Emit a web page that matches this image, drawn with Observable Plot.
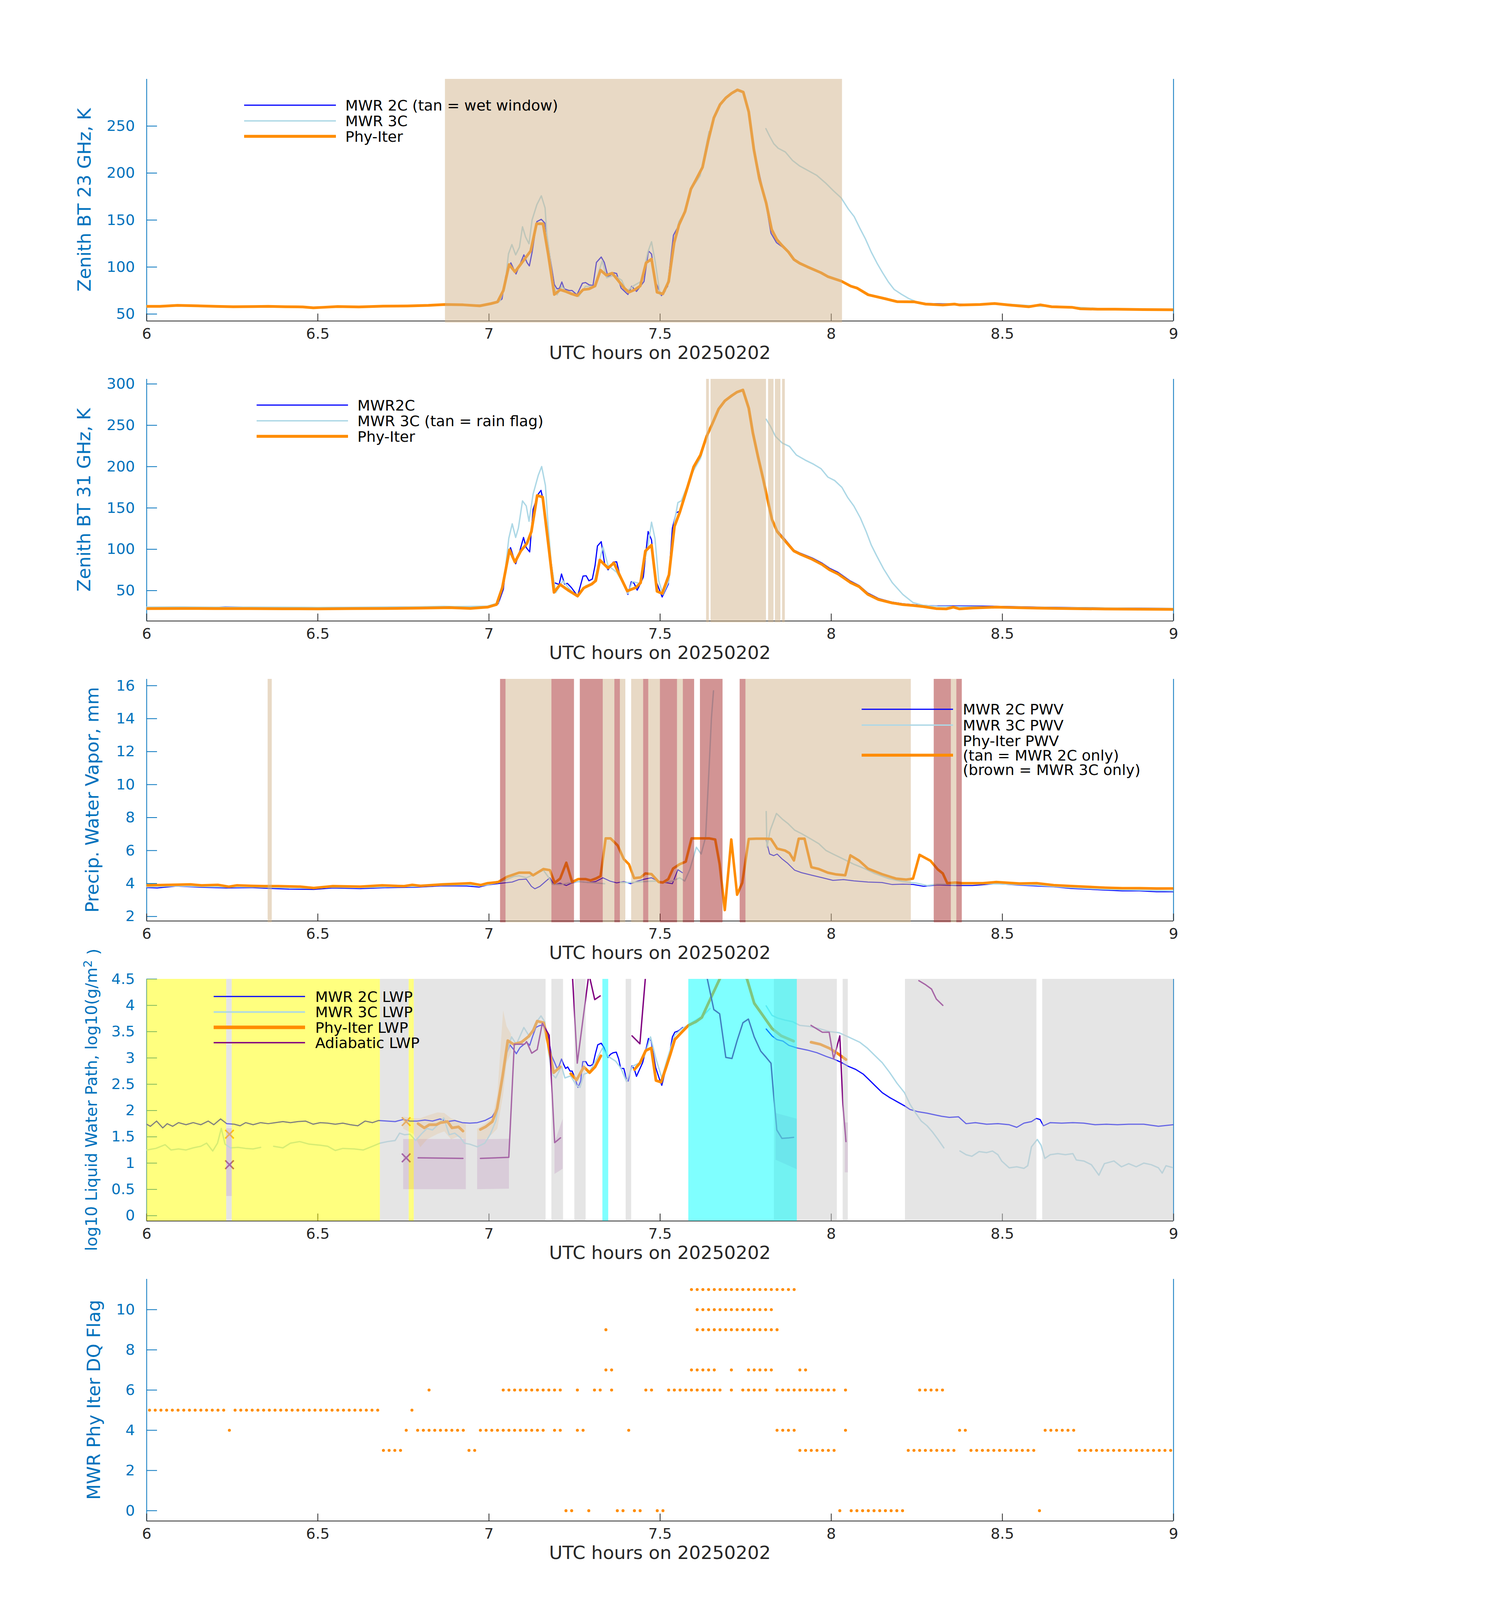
<!DOCTYPE html>
<html><head><meta charset="utf-8">
<script src="https://cdn.jsdelivr.net/npm/d3@7"></script>
<script src="https://cdn.jsdelivr.net/npm/@observablehq/plot@0.6"></script>
<style>
html,body{margin:0;background:#fff;overflow:hidden;}
#wrap{position:relative;width:3825px;background:#fff;font-family:"DejaVu Sans",sans-serif;}
#wrap svg{position:absolute;left:0;overflow:visible;}
</style></head><body><div id="wrap"></div>
<script>
// ---------------- DATA ----------------
const xTicks = [6, 6.5, 7, 7.5, 8, 8.5, 9];

// Panel 1: Zenith BT 23 GHz
const bt23_2C = [[6.0,58.6],[6.05,58.8],[6.1,59.4],[6.15,59.0],[6.2,58.5],[6.25,58.0],[6.3,58.3],[6.35,58.5],[6.4,58.1],[6.45,57.9],[6.49,56.9],[6.52,57.4],[6.56,58.2],[6.62,57.8],[6.69,58.6],[6.76,58.8],[6.82,59.4],[6.87,60.4],[6.93,60.0],[6.976,59.4],[7.006,61.0],[7.025,62.5],[7.038,66],[7.049,90.4],[7.064,104.5],[7.079,92.6],[7.102,113.0],[7.111,104.9],[7.118,101.2],[7.126,115.7],[7.140,148.3],[7.153,150.8],[7.164,146.5],[7.177,113.9],[7.191,81.4],[7.199,76.8],[7.206,77.4],[7.213,84.1],[7.220,76.8],[7.235,75.0],[7.243,75.0],[7.257,70.5],[7.264,75.9],[7.273,82.8],[7.282,83.5],[7.293,81.0],[7.304,80.4],[7.314,104.9],[7.328,110.7],[7.337,104.9],[7.348,89.5],[7.364,94.0],[7.373,93.1],[7.386,77.7],[7.406,70.8],[7.417,79.5],[7.431,74.1],[7.453,84.6],[7.466,117.2],[7.475,113.9],[7.486,84.9],[7.504,69.6],[7.522,79.5],[7.539,133.8],[7.555,144.7],[7.573,159.2],[7.590,183.0],[7.607,194.4],[7.624,206.2],[7.641,235.1],[7.657,258.7],[7.675,272.8],[7.692,280.0],[7.709,284.9],[7.726,288.5],[7.743,286.2],[7.759,265.0],[7.775,224.3],[7.792,195.3],[7.808,170.0],[7.824,136],[7.840,126],[7.857,121.5],[7.875,115.5],[7.891,107.8],[7.908,104.0],[7.933,100.0],[7.970,94.0],[7.991,89.7],[8.029,85.1],[8.057,79.7],[8.075,77.7],[8.108,70.5],[8.159,66.2],[8.192,63.2],[8.242,63.0],[8.276,61.2],[8.326,60.8],[8.376,60.6],[8.435,60.4],[8.477,61.4],[8.519,59.8],[8.577,58.0],[8.611,60.0],[8.644,58.4],[8.703,57.6],[8.728,55.8],[8.778,55.4],[8.828,55.3],[8.912,55.1],[9.0,54.8]];
const bt23_3C = [[6.0,58.5],[6.1,59.3],[6.2,58.4],[6.3,58.2],[6.4,58.0],[6.49,56.8],[6.6,57.8],[6.7,58.5],[6.8,59.0],[6.9,60.0],[6.976,59.4],[7.006,60.8],[7.031,63.3],[7.046,77.7],[7.057,113.9],[7.067,123.9],[7.078,113.0],[7.089,121.1],[7.098,142.9],[7.107,132.0],[7.117,124.8],[7.126,150.1],[7.140,166.4],[7.153,175.8],[7.164,162.8],[7.169,135.6],[7.177,113.9],[7.188,81.4],[7.199,70.5],[7.213,79.5],[7.226,73.2],[7.242,72.3],[7.262,68.7],[7.282,79.5],[7.308,79.5],[7.331,106.7],[7.344,88.6],[7.366,91.3],[7.388,85.9],[7.402,74.1],[7.424,80.4],[7.446,85.0],[7.464,115.7],[7.475,126.9],[7.486,104.9],[7.500,70.5],[7.515,74.1],[7.530,95.8],[7.544,132.0],[7.555,148.3],[7.570,157.4],[7.591,182.7],[7.617,197.1],[7.643,244.2],[7.65,NaN],[7.809,247.3],[7.820,239.3],[7.832,231.3],[7.845,226.4],[7.866,222.4],[7.887,213.4],[7.908,207.5],[7.933,202.5],[7.958,197.5],[7.983,189.6],[8.008,180.6],[8.029,173.6],[8.050,161.7],[8.067,153.7],[8.083,141.8],[8.100,129.9],[8.117,115.9],[8.134,104.0],[8.150,94.0],[8.167,84.1],[8.184,76.1],[8.205,71.1],[8.226,66.6],[8.251,62.6],[8.276,61.0],[8.3,60.5],[8.4,60.2],[8.5,60.8],[8.6,58.5],[8.7,57.5],[8.8,55.5],[8.9,55.0],[9.0,54.8]];
const bt23_phy = [[6.000,58.2],[6.039,58.2],[6.090,59.2],[6.141,58.8],[6.202,58.2],[6.253,57.8],[6.314,58.0],[6.355,58.2],[6.405,57.8],[6.456,57.6],[6.487,56.6],[6.518,57.2],[6.558,58.0],[6.620,57.6],[6.691,58.4],[6.762,58.6],[6.823,59.2],[6.872,60.2],[6.925,59.8],[6.973,58.7],[7.006,61.1],[7.025,62.9],[7.042,75.0],[7.059,102.7],[7.076,94.9],[7.093,103.1],[7.122,117.2],[7.139,146.1],[7.158,146.1],[7.173,113.9],[7.191,70.8],[7.208,75.9],[7.226,73.8],[7.242,71.4],[7.258,69.6],[7.275,75.9],[7.293,76.8],[7.310,79.9],[7.326,96.7],[7.343,91.3],[7.360,93.5],[7.377,85.9],[7.395,77.7],[7.409,73.2],[7.426,75.9],[7.442,79.9],[7.459,104.5],[7.475,108.5],[7.491,73.2],[7.508,71.4],[7.525,84.6],[7.541,125.7],[7.555,144.7],[7.573,159.2],[7.590,183.0],[7.607,194.4],[7.624,206.2],[7.641,235.1],[7.657,258.7],[7.675,272.8],[7.692,280.0],[7.709,284.9],[7.726,288.5],[7.743,286.2],[7.759,265.1],[7.774,225],[7.790,194],[7.810,168],[7.826,139.9],[7.841,129.3],[7.857,122.7],[7.875,116.0],[7.891,108.0],[7.908,104.0],[7.930,100.3],[7.970,94.0],[7.991,89.7],[8.029,85.1],[8.057,79.7],[8.075,77.7],[8.108,70.5],[8.159,66.2],[8.192,63.2],[8.242,63.0],[8.276,60.6],[8.326,59.6],[8.360,60.6],[8.376,59.6],[8.435,60.2],[8.477,61.2],[8.519,59.6],[8.577,57.8],[8.611,59.8],[8.644,57.8],[8.703,57.2],[8.728,55.6],[8.778,55.2],[8.828,55.2],[8.912,54.8],[9.000,54.6]];
const wetWindow = [[6.872, 8.032]];

// Panel 2: Zenith BT 31 GHz
const bt31_2C = [[6.0,29.8],[6.1,30.0],[6.2,29.7],[6.23,30.3],[6.3,29.8],[6.4,29.7],[6.5,29.4],[6.6,29.6],[6.7,29.9],[6.8,30.2],[6.9,30.4],[6.996,31.0],[7.027,34.1],[7.042,51.6],[7.052,88.6],[7.063,102.0],[7.078,82.5],[7.088,94.8],[7.101,114.3],[7.109,102.0],[7.119,96.8],[7.129,148.3],[7.144,166.8],[7.152,171.3],[7.161,154.4],[7.175,103.0],[7.190,59.8],[7.205,57.4],[7.212,70.1],[7.221,57.8],[7.229,58.8],[7.241,53.6],[7.259,43.4],[7.275,67.6],[7.284,68.0],[7.292,61.9],[7.302,64.0],[7.310,80.4],[7.317,104.0],[7.328,109.2],[7.338,82.5],[7.348,75.2],[7.363,84.5],[7.373,84.9],[7.384,66.0],[7.394,58.8],[7.406,45.4],[7.416,60.9],[7.424,58.8],[7.433,50.6],[7.443,58.8],[7.451,66.4],[7.465,121.5],[7.475,111.3],[7.486,64.0],[7.506,42.3],[7.524,57.8],[7.536,125.7],[7.547,144.2],[7.557,146],[7.577,171],[7.598,199.7],[7.618,214.1],[7.636,236.7],[7.654,253.2],[7.671,269.7],[7.689,279.5],[7.710,286.1],[7.725,290.2],[7.742,292.7],[7.759,270.7],[7.771,240.9],[7.786,212.1],[7.801,185.3],[7.817,154.4],[7.827,137],[7.842,123],[7.865,112],[7.891,99],[7.911,95],[7.944,89.5],[7.974,83],[7.995,77],[8.020,72],[8.056,61.5],[8.082,56],[8.107,47],[8.138,40.5],[8.178,36],[8.209,34],[8.239,33],[8.270,32],[8.306,31.4],[8.372,31.4],[8.482,31.0],[8.6,30],[8.7,29.5],[8.8,29],[8.9,28.7],[9.0,28.5]];
const bt31_3C = [[6.0,30.0],[6.1,30.2],[6.2,29.9],[6.3,30.0],[6.4,29.9],[6.5,29.6],[6.6,29.8],[6.7,30.1],[6.8,30.4],[6.868,31.0],[6.9,30.6],[6.996,31.2],[7.027,35.1],[7.047,72.2],[7.058,113.3],[7.068,130.8],[7.078,114.3],[7.086,125.7],[7.098,158.6],[7.109,152.4],[7.117,133.9],[7.129,166.8],[7.144,189.4],[7.154,200.1],[7.165,177.1],[7.172,133.9],[7.182,82.5],[7.195,47.5],[7.216,61.9],[7.236,51.6],[7.259,42.3],[7.282,55.7],[7.307,59.8],[7.333,103.0],[7.348,80.4],[7.373,72.2],[7.394,57.8],[7.406,46.5],[7.419,60.9],[7.440,58.8],[7.465,105.1],[7.475,132.8],[7.485,113.3],[7.496,61.9],[7.508,45.4],[7.526,61.9],[7.542,133.9],[7.552,156.5],[7.562,158.6],[7.598,195.6],[7.618,210.0],[7.636,236],[7.645,NaN],[7.810,257.3],[7.822,249.1],[7.837,236.7],[7.857,228.5],[7.878,224.4],[7.898,214.1],[7.924,207.9],[7.949,202.8],[7.970,197.6],[7.990,187.4],[8.010,183.2],[8.031,175.0],[8.048,162.7],[8.066,152.4],[8.085,138.0],[8.102,121.5],[8.117,105.1],[8.132,92.7],[8.153,76.3],[8.178,59.8],[8.209,45.4],[8.239,35.5],[8.270,32.0],[8.311,31.0],[8.4,30.5],[8.5,30.2],[8.6,29.8],[8.7,29.3],[8.8,28.9],[8.9,28.6],[9.0,28.4]];
const bt31_phy = [[6.0,28.2],[6.1,28.4],[6.2,28.3],[6.3,28.3],[6.4,28.0],[6.5,27.9],[6.6,28.2],[6.7,28.4],[6.8,28.8],[6.884,29.4],[6.946,28.5],[6.996,30.0],[7.022,33.1],[7.039,53.6],[7.060,99.3],[7.076,84.5],[7.093,97.9],[7.111,107.1],[7.124,121.5],[7.141,165.1],[7.157,163.1],[7.175,101.0],[7.190,47.9],[7.208,57.4],[7.231,50.6],[7.259,43.4],[7.277,53.2],[7.300,57.8],[7.312,61.9],[7.324,87.0],[7.348,77.3],[7.365,83.5],[7.386,65.0],[7.404,49.5],[7.429,53.6],[7.443,59.4],[7.457,97.9],[7.475,105.1],[7.491,49.1],[7.506,46.5],[7.526,69.1],[7.542,127.7],[7.557,144.2],[7.577,170.9],[7.598,199.7],[7.618,214.1],[7.636,236.7],[7.654,253.2],[7.671,269.7],[7.689,279.5],[7.710,286.1],[7.725,290.2],[7.742,292.7],[7.759,270.7],[7.771,240.9],[7.786,212.1],[7.801,185.3],[7.817,154.4],[7.827,135.9],[7.842,121.5],[7.865,110.2],[7.891,97.9],[7.911,93.8],[7.944,88.0],[7.974,81.4],[7.995,75.2],[8.020,70.1],[8.056,59.8],[8.082,54.7],[8.107,45.4],[8.138,39.2],[8.178,35.1],[8.209,33.1],[8.239,32.0],[8.270,30.6],[8.306,28.3],[8.336,27.9],[8.357,30.0],[8.374,27.9],[8.413,29.0],[8.482,30.0],[8.55,29.3],[8.6,28.8],[8.7,28.2],[8.8,27.8],[8.9,27.5],[9.0,27.3]];
const rainFlag = [[7.635,7.643],[7.648,7.810],[7.816,7.832],[7.836,7.852],[7.857,7.865]];

// Panel 3: PWV
const pwv_2C = [[6.000,3.75],[6.031,3.73],[6.087,3.84],[6.160,3.77],[6.232,3.73],[6.304,3.75],[6.376,3.69],[6.416,3.66],[6.488,3.64],[6.544,3.73],[6.624,3.69],[6.704,3.75],[6.784,3.77],[6.864,3.86],[6.935,3.85],[6.971,3.78],[6.996,3.91],[7.037,4.02],[7.068,4.09],[7.088,4.24],[7.109,4.27],[7.124,3.83],[7.134,3.68],[7.149,3.83],[7.165,4.12],[7.178,4.35],[7.190,3.94],[7.208,4.02],[7.226,3.88],[7.241,4.02],[7.261,4.12],[7.292,4.06],[7.312,4.12],[7.333,4.35],[7.353,4.15],[7.373,4.04],[7.394,4.12],[7.414,3.99],[7.435,4.15],[7.455,4.27],[7.475,4.35],[7.496,4.12],[7.521,4.04],[7.536,3.99],[7.552,4.84],[7.565,4.66],[7.7,NaN],[7.810,6.62],[7.820,5.79],[7.832,5.69],[7.842,5.79],[7.857,5.48],[7.873,5.22],[7.893,4.81],[7.913,4.66],[7.944,4.50],[7.974,4.35],[8.005,4.19],[8.036,4.24],[8.066,4.16],[8.107,4.09],[8.148,4.06],[8.178,3.94],[8.209,3.96],[8.239,3.94],[8.270,3.83],[8.311,3.91],[8.362,3.88],[8.413,3.88],[8.482,3.99],[8.55,3.9],[8.6,3.85],[8.65,3.8],[8.7,3.7],[8.75,3.65],[8.8,3.6],[8.85,3.55],[8.9,3.55],[8.95,3.5],[9.0,3.5]];
const pwv_3C = [[6.000,3.80],[6.087,3.86],[6.160,3.82],[6.232,3.79],[6.304,3.80],[6.376,3.76],[6.488,3.72],[6.544,3.78],[6.624,3.75],[6.704,3.80],[6.784,3.82],[6.864,3.90],[6.935,3.92],[6.976,3.86],[7.027,4.05],[7.052,4.24],[7.073,4.43],[7.088,4.47],[7.109,4.35],[7.139,4.61],[7.159,4.81],[7.175,4.35],[7.185,3.96],[7.210,3.94],[7.236,4.04],[7.261,4.12],[7.292,4.06],[7.312,4.04],[7.338,3.99],[7.36,NaN],[7.384,4.06],[7.414,4.06],[7.455,4.12],[7.485,4.15],[7.516,4.09],[7.536,4.15],[7.557,4.35],[7.572,4.15],[7.587,4.86],[7.606,6.20],[7.620,5.79],[7.633,6.82],[7.643,10.95],[7.650,14.04],[7.656,15.69],[7.7,NaN],[7.810,8.37],[7.812,6.20],[7.822,7.24],[7.840,8.25],[7.857,7.91],[7.873,7.65],[7.893,7.24],[7.913,7.03],[7.939,6.72],[7.964,6.41],[7.985,6.00],[8.005,5.79],[8.036,5.48],[8.066,5.17],[8.097,4.91],[8.127,4.61],[8.168,4.30],[8.209,4.12],[8.250,4.02],[8.280,3.88],[8.311,3.96],[8.362,3.94],[8.443,3.99],[8.5,3.97],[8.6,3.9],[8.7,3.75],[8.8,3.65],[8.9,3.6],[9.0,3.55]];
const pwv_phy = [[6.000,3.89],[6.063,3.92],[6.128,3.95],[6.160,3.89],[6.208,3.92],[6.240,3.81],[6.264,3.89],[6.304,3.86],[6.344,3.84],[6.384,3.84],[6.448,3.81],[6.488,3.73],[6.544,3.84],[6.624,3.81],[6.688,3.89],[6.752,3.84],[6.776,3.92],[6.800,3.86],[6.864,3.95],[6.915,3.99],[6.946,4.02],[6.976,3.91],[6.996,4.02],[7.027,4.09],[7.052,4.40],[7.088,4.66],[7.119,4.66],[7.129,4.50],[7.159,4.88],[7.178,4.81],[7.192,4.04],[7.208,4.30],[7.226,5.26],[7.243,4.09],[7.261,4.27],[7.282,4.27],[7.297,4.19],[7.312,4.30],[7.326,4.45],[7.341,6.74],[7.355,6.74],[7.376,6.31],[7.394,5.48],[7.409,5.17],[7.424,4.33],[7.443,4.37],[7.457,4.61],[7.475,4.57],[7.496,4.09],[7.508,4.06],[7.524,4.27],[7.538,4.91],[7.557,5.17],[7.575,5.33],[7.592,6.74],[7.618,6.74],[7.643,6.74],[7.661,6.67],[7.674,5.17],[7.689,2.39],[7.708,6.67],[7.725,3.32],[7.740,4.04],[7.759,6.70],[7.781,6.72],[7.807,6.72],[7.824,6.70],[7.842,6.12],[7.865,6.00],[7.878,5.84],[7.891,5.40],[7.905,6.72],[7.922,6.72],[7.942,4.99],[7.964,4.88],[7.990,4.66],[8.015,4.55],[8.041,4.50],[8.056,5.71],[8.082,5.38],[8.107,4.91],[8.148,4.57],[8.189,4.30],[8.219,4.24],[8.239,4.30],[8.258,5.74],[8.290,5.38],[8.311,4.86],[8.326,4.61],[8.339,4.02],[8.362,4.06],[8.382,4.02],[8.443,4.02],[8.482,4.09],[8.55,4.0],[8.6,4.02],[8.65,3.9],[8.7,3.85],[8.75,3.8],[8.8,3.75],[8.85,3.72],[8.9,3.72],[8.95,3.7],[9.0,3.7]];
const pwvOnly2C = [[6.354,6.366],[7.049,7.183],[7.333,7.367],[7.383,7.399],[7.416,7.451],[7.466,7.500],[7.550,7.567],[7.750,8.233],[8.350,8.366]];
const pwvOnly3C = [[7.033,7.049],[7.183,7.249],[7.266,7.333],[7.367,7.383],[7.451,7.466],[7.500,7.550],[7.567,7.600],[7.617,7.683],[7.733,7.750],[8.300,8.350],[8.366,8.382]];

// Panel 4: log10 LWP
const lwp_2C = [[6.000,1.74],[6.011,1.70],[6.029,1.80],[6.047,1.67],[6.060,1.75],[6.076,1.70],[6.093,1.77],[6.115,1.73],[6.136,1.77],[6.158,1.73],[6.180,1.80],[6.196,1.73],[6.216,1.84],[6.234,1.75],[6.256,1.74],[6.273,1.71],[6.289,1.77],[6.311,1.73],[6.333,1.77],[6.355,1.75],[6.376,1.77],[6.398,1.79],[6.420,1.77],[6.442,1.79],[6.464,1.80],[6.486,1.74],[6.507,1.77],[6.529,1.76],[6.551,1.74],[6.573,1.76],[6.595,1.73],[6.617,1.71],[6.638,1.80],[6.660,1.77],[6.677,1.81],[6.704,1.80],[6.726,1.79],[6.750,1.83],[6.769,1.80],[6.791,1.80],[6.813,1.82],[6.835,1.80],[6.857,1.84],[6.879,1.79],[6.900,1.81],[6.922,1.77],[6.944,1.76],[6.966,1.77],[6.988,1.81],[7.009,1.88],[7.022,2.01],[7.032,2.40],[7.042,2.75],[7.051,3.08],[7.061,3.25],[7.071,3.17],[7.080,3.08],[7.091,3.20],[7.101,3.25],[7.110,3.30],[7.119,3.24],[7.127,3.40],[7.137,3.58],[7.146,3.61],[7.156,3.63],[7.165,3.58],[7.173,3.40],[7.183,3.04],[7.192,2.91],[7.199,2.80],[7.205,2.85],[7.212,2.98],[7.218,2.88],[7.224,2.80],[7.230,2.83],[7.237,2.75],[7.243,2.75],[7.248,2.67],[7.254,2.56],[7.260,2.44],[7.268,2.56],[7.274,2.93],[7.283,2.93],[7.289,2.86],[7.296,2.85],[7.304,2.88],[7.311,3.08],[7.318,3.25],[7.328,3.28],[7.336,3.20],[7.343,3.08],[7.348,3.01],[7.355,3.07],[7.363,3.10],[7.372,3.11],[7.379,2.98],[7.385,2.80],[7.394,2.80],[7.401,2.62],[7.407,2.56],[7.412,2.72],[7.418,2.85],[7.425,2.78],[7.431,2.65],[7.440,2.78],[7.449,2.91],[7.458,3.14],[7.466,3.37],[7.474,3.33],[7.480,3.08],[7.487,2.82],[7.497,2.62],[7.505,2.48],[7.513,2.69],[7.523,2.95],[7.530,3.17],[7.536,3.40],[7.543,3.49],[7.552,3.51],[7.559,3.54],[7.566,3.58],[7.57,NaN],[7.810,3.55],[7.827,3.42],[7.841,3.35],[7.859,3.32],[7.876,3.24],[7.900,3.19],[7.930,3.15],[7.958,3.10],[7.985,3.03],[8.007,2.98],[8.028,2.92],[8.050,2.84],[8.072,2.78],[8.094,2.69],[8.110,2.59],[8.127,2.48],[8.149,2.34],[8.170,2.25],[8.192,2.17],[8.214,2.09],[8.230,2.02],[8.252,1.98],[8.280,1.95],[8.301,1.92],[8.323,1.89],[8.345,1.87],[8.372,1.88],[8.394,1.75],[8.421,1.77],[8.454,1.74],[8.487,1.75],[8.520,1.73],[8.542,1.68],[8.563,1.76],[8.585,1.79],[8.599,1.85],[8.610,1.83],[8.620,1.71],[8.640,1.77],[8.673,1.76],[8.706,1.77],[8.738,1.76],[8.771,1.73],[8.804,1.74],[8.836,1.73],[8.869,1.74],[8.913,1.74],[8.956,1.70],[9.000,1.73]];
const lwp_3C = [[6.000,1.25],[6.027,1.28],[6.054,1.35],[6.071,1.25],[6.093,1.27],[6.115,1.25],[6.136,1.29],[6.158,1.32],[6.175,1.38],[6.193,1.23],[6.207,1.38],[6.218,1.66],[6.229,1.36],[6.245,1.29],[6.267,1.30],[6.289,1.28],[6.311,1.27],[6.333,1.30],[6.35,NaN],[6.371,1.32],[6.398,1.29],[6.420,1.38],[6.447,1.41],[6.475,1.36],[6.507,1.34],[6.529,1.32],[6.551,1.24],[6.573,1.28],[6.606,1.27],[6.633,1.25],[6.660,1.32],[6.682,1.38],[6.704,1.41],[6.726,1.43],[6.739,1.57],[6.753,1.54],[6.769,1.55],[6.786,1.43],[6.802,1.55],[6.819,1.66],[6.835,1.63],[6.851,1.73],[6.868,1.86],[6.884,1.54],[6.900,1.57],[6.917,1.48],[6.928,1.38],[6.944,1.36],[6.966,1.31],[6.988,1.38],[7.004,1.55],[7.020,1.80],[7.037,2.44],[7.053,3.12],[7.066,3.40],[7.080,3.26],[7.102,3.58],[7.119,3.40],[7.135,3.65],[7.152,3.80],[7.163,3.69],[7.173,3.16],[7.184,2.69],[7.195,2.62],[7.212,2.84],[7.222,2.62],[7.239,2.66],[7.255,2.48],[7.266,2.44],[7.277,2.69],[7.293,2.73],[7.315,2.98],[7.332,3.19],[7.348,3.03],[7.370,2.94],[7.386,2.80],[7.402,2.55],[7.419,2.84],[7.441,2.91],[7.455,3.05],[7.472,3.40],[7.488,2.98],[7.505,2.62],[7.521,2.98],[7.543,3.44],[7.565,3.56],[7.592,3.67],[7.625,3.80],[7.646,3.94],[7.7,NaN],[7.810,3.99],[7.827,3.81],[7.843,3.76],[7.865,3.72],[7.887,3.69],[7.908,3.62],[7.936,3.60],[7.963,3.56],[7.996,3.50],[8.023,3.48],[8.050,3.40],[8.083,3.30],[8.105,3.19],[8.127,3.05],[8.149,2.91],[8.170,2.73],[8.192,2.52],[8.214,2.34],[8.230,2.12],[8.247,1.95],[8.263,1.80],[8.280,1.71],[8.296,1.59],[8.312,1.45],[8.329,1.29],[8.35,NaN],[8.376,1.23],[8.394,1.16],[8.411,1.13],[8.432,1.22],[8.454,1.20],[8.471,1.23],[8.487,1.16],[8.498,1.04],[8.520,0.91],[8.542,0.93],[8.563,0.90],[8.574,0.95],[8.585,1.31],[8.602,1.45],[8.613,1.34],[8.624,1.09],[8.640,1.16],[8.662,1.18],[8.684,1.16],[8.706,1.18],[8.716,1.06],[8.738,1.04],[8.760,0.97],[8.782,0.77],[8.798,0.99],[8.826,1.04],[8.848,0.93],[8.869,0.99],[8.891,0.93],[8.913,1.00],[8.935,0.97],[8.956,0.91],[8.967,0.81],[8.978,0.95],[9.000,0.91]];
const lwp_phy = [[6.793,1.75],[6.811,1.67],[6.826,1.73],[6.846,1.73],[6.859,1.77],[6.879,1.79],[6.892,1.67],[6.911,1.69],[6.924,1.61],[6.95,NaN],[6.975,1.64],[6.990,1.69],[7.010,1.79],[7.024,2.04],[7.040,2.66],[7.055,3.33],[7.072,3.26],[7.095,3.30],[7.116,3.41],[7.130,3.53],[7.141,3.70],[7.160,3.67],[7.173,3.27],[7.189,2.72],[7.208,2.83],[7.225,NaN],[7.239,2.70],[7.256,2.58],[7.277,2.83],[7.294,2.72],[7.310,2.83],[7.327,3.04],[7.37,NaN],[7.425,2.78],[7.441,2.90],[7.458,3.14],[7.474,3.19],[7.488,2.57],[7.503,2.54],[7.517,2.81],[7.530,3.07],[7.543,3.35],[7.559,3.46],[7.583,3.62],[7.605,3.69],[7.622,3.77],[7.641,4.04],[7.674,4.50],[7.71,4.9],[7.754,4.50],[7.775,4.04],[7.799,3.82],[7.827,3.56],[7.854,3.42],[7.890,3.32],[7.92,NaN],[7.941,3.30],[7.968,3.26],[7.996,3.18],[8.020,3.08],[8.043,2.97]];
const lwp_adiab = [[6.793,1.10],[6.924,1.09],[6.95,NaN],[6.975,1.09],[7.058,1.11],[7.074,3.26],[7.104,3.26],[7.110,3.31],[7.125,3.09],[7.141,3.16],[7.156,3.66],[7.176,3.43],[7.192,1.39],[7.209,1.48],[7.225,NaN],[7.236,5.5],[7.258,2.90],[7.292,4.6],[7.309,4.11],[7.325,4.18],[7.37,NaN],[7.418,3.42],[7.441,3.27],[7.458,4.6],[7.47,5.5],[7.62,5.5],[7.638,4.50],[7.657,3.92],[7.674,3.84],[7.692,3.01],[7.710,2.99],[7.725,3.33],[7.742,3.67],[7.758,3.74],[7.775,3.40],[7.794,3.13],[7.810,3.01],[7.824,2.90],[7.832,2.27],[7.841,1.63],[7.856,1.47],[7.876,1.48],[7.890,1.49],[7.92,NaN],[7.941,3.62],[7.974,3.49],[7.994,3.49],[8.007,2.98],[8.025,3.42],[8.034,2.12],[8.043,1.41],[8.1,NaN],[8.256,4.47],[8.274,4.40],[8.293,4.31],[8.307,4.12],[8.326,4.00]];
const lwpMarkAdiab = [[6.242,0.97],[6.758,1.10]];
const lwpMarkPhy = [[6.242,1.55],[6.758,1.79]];
const adiabBandA = [[6.233,0.37,1.66],[6.249,0.37,1.66]];
const adiabBandB = [[6.750,0.50,1.455],[6.933,0.50,1.455]];
const adiabBandC = [[6.966,0.50,1.45],[7.059,0.51,1.46]];
const adiabBandD = [[7.192,0.79,1.39],[7.216,0.89,1.84]];
const adiabBandE = [[7.838,1.06,1.95],[7.900,0.88,1.84]];
const adiabBandF = [[8.040,0.82,1.77],[8.049,0.82,1.77]];
const phyBandA = [[6.750,1.65,1.88],[6.780,1.55,1.85],[6.800,1.30,1.85],[6.820,1.45,1.90],[6.850,1.55,1.96],[6.870,1.60,1.95],[6.890,1.45,1.85],[6.910,1.50,1.80],[6.933,1.45,1.75]];
const phyBandB = [[6.966,1.45,1.65],[6.990,1.45,1.75],[7.010,1.55,1.85],[7.025,1.65,2.30],[7.042,2.30,3.90],[7.052,2.90,3.60],[7.065,3.10,3.45]];
const lwpYellow = [[6.000,6.233],[6.249,6.682],[6.766,6.781]];
const lwpGray = [[6.233,6.249],[6.682,6.766],[6.781,7.166],[7.183,7.217],[7.250,7.283],[7.400,7.416],[7.833,8.017],[8.034,8.049],[8.216,8.600],[8.617,9.000]];
const lwpCyan = [[7.332,7.349],[7.583,7.900]];

// Panel 5: DQ flag, minute index after 06:00 UTC
const dqFlag0 = [73,74,77,82,83,85,86,89,90,121,123,124,125,126,127,128,129,130,131,132,156];
const dqFlag3 = [41,42,43,44,56,57,114,115,116,117,118,119,120,133,134,135,136,137,138,139,140,141,144,145,146,147,148,149,150,151,152,153,154,155,163,164,165,166,167,168,169,170,171,172,173,174,175,176,177,178,179];
const dqFlag4 = [14,45,47,48,49,50,51,52,53,54,55,58,59,60,61,62,63,64,65,66,67,68,69,71,72,75,76,84,110,111,112,113,122,142,143,157,158,159,160,161,162];
const dqFlag5 = [0,1,2,3,4,5,6,7,8,9,10,11,12,13,15,16,17,18,19,20,21,22,23,24,25,26,27,28,29,30,31,32,33,34,35,36,37,38,39,40,46];
const dqFlag6 = [49,62,63,64,65,66,67,68,69,70,71,72,75,78,79,81,87,88,91,92,93,94,95,96,97,98,99,100,102,104,105,106,107,108,110,111,112,113,114,115,116,117,118,119,120,122,135,136,137,138,139];
const dqFlag7 = [80,81,95,96,97,98,99,102,105,106,107,108,109,114,115];
const dqFlag9 = [80,96,97,98,99,100,101,102,103,104,105,106,107,108,109,110];
const dqFlag10 = [96,97,98,99,100,101,102,103,104,105,106,107,108,109];
const dqFlag11 = [95,96,97,98,99,100,101,102,103,104,105,106,107,108,109,110,111,112,113];

// ---------------- LAYOUT / STYLE ----------------
// Vertical layout follows the 6000 px reference; it is compressed if the visible window is shorter.
const VH = Math.min(window.innerHeight || 6000, document.documentElement.clientHeight || 6000);
const S = Math.min(1, VH / 6000);
const FS = 1;
const W = 3825, ML = 375, MR = 3825 - 3004;
const PH = 907 * S, MT = 60 * S, MB = 160 * S, H = MT + PH + MB;
const TOPS = [295.6, 1420.7, 2545.6, 3670.5, 4795.4].map(v => v * S);
const AXB = "#0072BD", DARK = "#262626";
const C2 = "blue", C3 = "lightblue", CP = "darkorange", CA = "purple";
const wrap = document.getElementById("wrap");
wrap.style.height = (6000 * S) + "px";
const X = d => d[0], Y = d => d[1];
const fmt = d => String(d);

function patches(list, y0, y1, fill) {
  return Plot.rect(list, {x1: d => d[0], x2: d => d[1], y1: y0, y2: y1, fill, fillOpacity: 0.5});
}
function band(list, fill, op) {
  return Plot.areaY(list, {x: d => d[0], y1: d => d[1], y2: d => d[2], fill, fillOpacity: op});
}
function line(list, stroke, w) {
  return Plot.line(list, {x: X, y: Y, stroke, strokeWidth: w, clip: true});
}

function makePanel(idx, cfg) {
  const [y0, y1] = cfg.yDomain;
  const pxH = (3004 - 375) / 3;
  const pxV = PH / (y1 - y0);
  const tickFont = 38 * FS;
  const marks = [
    Plot.ruleY([y0], {stroke: DARK, strokeWidth: 2}),
    Plot.ruleX([6, 9], {y1: y0, y2: y1, stroke: AXB, strokeWidth: 2}),
    Plot.ruleY(cfg.yTicks, {x1: 6, x2: 6 + 27 / pxH, stroke: AXB, strokeWidth: 2}),
    Plot.ruleX(xTicks, {y1: y0, y2: y0 + 27 * S / pxV, stroke: DARK, strokeWidth: 2}),
    Plot.axisY(cfg.yTicks, {tickSize: 0, tickPadding: 30, color: AXB, fontSize: tickFont, label: null, tickFormat: fmt}),
    Plot.axisX(xTicks, {tickSize: 0, tickPadding: Math.max(6, 66 * S - 0.71 * tickFont), color: DARK, fontSize: tickFont, label: null, tickFormat: fmt}),
    ...cfg.marks(y0, y1, pxV)
  ];
  const svg = Plot.plot({
    width: W, height: H, marginLeft: ML, marginRight: MR, marginTop: MT, marginBottom: MB,
    x: {domain: [6, 9]}, y: {domain: cfg.yDomain},
    style: {fontFamily: "DejaVu Sans", fontSize: tickFont + "px", background: "transparent", overflow: "visible"},
    marks
  });
  const off = TOPS[idx] - MT;
  svg.style.top = off + "px";
  wrap.appendChild(svg);
  const s = d3.select(svg);
  // x label
  s.append("text").attr("x", (375 + 3004) / 2).attr("y", MT + PH + Math.max(98, 134 * S))
    .attr("text-anchor", "middle").attr("font-size", 47 * FS).attr("fill", DARK)
    .attr("font-family", "DejaVu Sans").text("UTC hours on 20250202");
  // y label (shrunk only if it would run far past the panel height)
  const yl = s.append("text").attr("transform", `translate(${cfg.labelX},${MT + PH / 2}) rotate(-90)`)
    .attr("text-anchor", "middle").attr("font-size", 46.5 * FS).attr("fill", AXB).attr("font-family", "DejaVu Sans");
  if (cfg.labelSup) {
    yl.append("tspan").text(cfg.label);
    yl.append("tspan").attr("dy", "-0.45em").attr("font-size", 34 * FS).text(cfg.labelSup);
    yl.append("tspan").attr("dy", "0.45em").text(" )");
  } else yl.text(cfg.label);
  try {
    const len = yl.node().getComputedTextLength();
    const maxLen = PH * 1.25;
    if (len > maxLen) {
      const k = maxLen / len;
      yl.attr("font-size", 46.5 * FS * k);
      yl.selectAll("tspan").filter((d, i) => i === 1).attr("font-size", 34 * FS * k);
    }
  } catch (e) {}
  // legend
  if (cfg.legend) {
    const L = cfg.legend, g = s.append("g").attr("font-family", "DejaVu Sans").attr("text-anchor", "start");
    L.rows.forEach(r => {
      const y = r.y * S - off;
      if (r.color) g.append("line").attr("x1", L.x1).attr("x2", L.x2).attr("y1", y).attr("y2", y)
        .attr("stroke", r.color).attr("stroke-width", r.w);
      if (r.text) g.append("text").attr("x", L.xt).attr("y", y).attr("dy", "0.36em")
        .attr("text-anchor", "start").attr("font-size", 38 * FS).attr("fill", "#000").text(r.text);
    });
  }
}

// Panel 1
makePanel(0, {
  yDomain: [42.65, 300], yTicks: [50, 100, 150, 200, 250], label: "Zenith BT 23 GHz, K", labelX: 232,
  marks: (y0, y1, pxV) => [
    line(bt23_2C, C2, 3), line(bt23_3C, C3, 3.5), line(bt23_phy, CP, 7),
    patches(wetWindow, y0 - 7 * S / pxV, y1, "tan")
  ],
  legend: {x1: 625, x2: 860, xt: 884, rows: [
    {y: 394, color: C2, w: 3, text: "MWR 2C (tan = wet window)"},
    {y: 453, color: C3, w: 3.5, text: "MWR 3C"},
    {y: 511, color: CP, w: 7.5, text: "Phy-Iter"}]}
});

// Panel 2
makePanel(1, {
  yDomain: [13.3, 305.9], yTicks: [50, 100, 150, 200, 250, 300], label: "Zenith BT 31 GHz, K", labelX: 231,
  marks: (y0, y1, pxV) => [
    line(bt31_2C, C2, 3), line(bt31_3C, C3, 3.5), line(bt31_phy, CP, 7),
    patches(rainFlag, y0 - 6 * S / pxV, y1, "tan")
  ],
  legend: {x1: 657, x2: 891, xt: 915, rows: [
    {y: 1519, color: C2, w: 3, text: "MWR2C"},
    {y: 1578, color: C3, w: 3.5, text: "MWR 3C (tan = rain flag)"},
    {y: 1636, color: CP, w: 7.5, text: "Phy-Iter"}]}
});

// Panel 3
makePanel(2, {
  yDomain: [1.73, 16.40], yTicks: [2, 4, 6, 8, 10, 12, 14, 16], label: "Precip. Water Vapor, mm", labelX: 252,
  marks: (y0, y1, pxV) => [
    line(pwv_2C, C2, 2.5), line(pwv_3C, C3, 3.5), line(pwv_phy, CP, 6.5),
    patches(pwvOnly2C, y0 - 6 * S / pxV, y1, "tan"), patches(pwvOnly3C, y0 - 6 * S / pxV, y1, "brown")
  ],
  legend: {x1: 2206, x2: 2440, xt: 2465, rows: [
    {y: 2659.4, color: C2, w: 3, text: "MWR 2C PWV"},
    {y: 2718.8, color: C3, w: 3.5, text: "MWR 3C PWV"},
    {y: 2777.4, text: "Phy-Iter PWV"},
    {y: 2831.6, color: CP, w: 7.5, text: "(tan = MWR 2C only)"},
    {y: 2885.8, text: "(brown = MWR 3C only)"}]}
});

// Panel 4
makePanel(3, {
  yDomain: [-0.1, 4.5], yTicks: [0, 0.5, 1, 1.5, 2, 2.5, 3, 3.5, 4, 4.5],
  label: "log10 Liquid Water Path, log10(g/m", labelSup: "2", labelX: 248,
  marks: (y0, y1) => [
    band(adiabBandA, CA, 0.2), band(adiabBandB, CA, 0.2), band(adiabBandC, CA, 0.2),
    band(adiabBandD, CA, 0.2), band(adiabBandE, CA, 0.2), band(adiabBandF, CA, 0.2),
    band(phyBandA, CP, 0.2), band(phyBandB, CP, 0.2),
    line(lwp_2C, C2, 3), line(lwp_3C, C3, 3.5), line(lwp_phy, CP, 7), line(lwp_adiab, CA, 3.5),
    Plot.dot(lwpMarkAdiab, {x: X, y: Y, symbol: "times", r: 10, stroke: CA, strokeWidth: 4}),
    Plot.dot(lwpMarkPhy, {x: X, y: Y, symbol: "times", r: 10, stroke: CP, strokeWidth: 4}),
    patches(lwpYellow, y0, y1, "yellow"), patches(lwpGray, y0, y1, "#cccccc"), patches(lwpCyan, y0, y1, "cyan")
  ],
  legend: {x1: 547, x2: 781, xt: 807, rows: [
    {y: 3736.5, color: C2, w: 3, text: "MWR 2C LWP"},
    {y: 3794.7, color: C3, w: 4, text: "MWR 3C LWP"},
    {y: 3852.2, color: CP, w: 9, text: "Phy-Iter LWP"},
    {y: 3909.7, color: CA, w: 3.5, text: "Adiabatic LWP"}]}
});

// Panel 5
const dqPoints = [
  [dqFlag0, 0], [dqFlag3, 3], [dqFlag4, 4], [dqFlag5, 5], [dqFlag6, 6],
  [dqFlag7, 7], [dqFlag9, 9], [dqFlag10, 10], [dqFlag11, 11]
].flatMap(([mins, f]) => mins.map(m => [6 + (m + 0.5) / 60, f]));
makePanel(4, {
  yDomain: [-0.51, 11.52], yTicks: [0, 2, 4, 6, 8, 10], label: "MWR Phy Iter DQ Flag", labelX: 256,
  marks: () => [Plot.dot(dqPoints, {x: X, y: Y, r: 3.8, fill: CP, stroke: null})]
});
</script></body></html>
